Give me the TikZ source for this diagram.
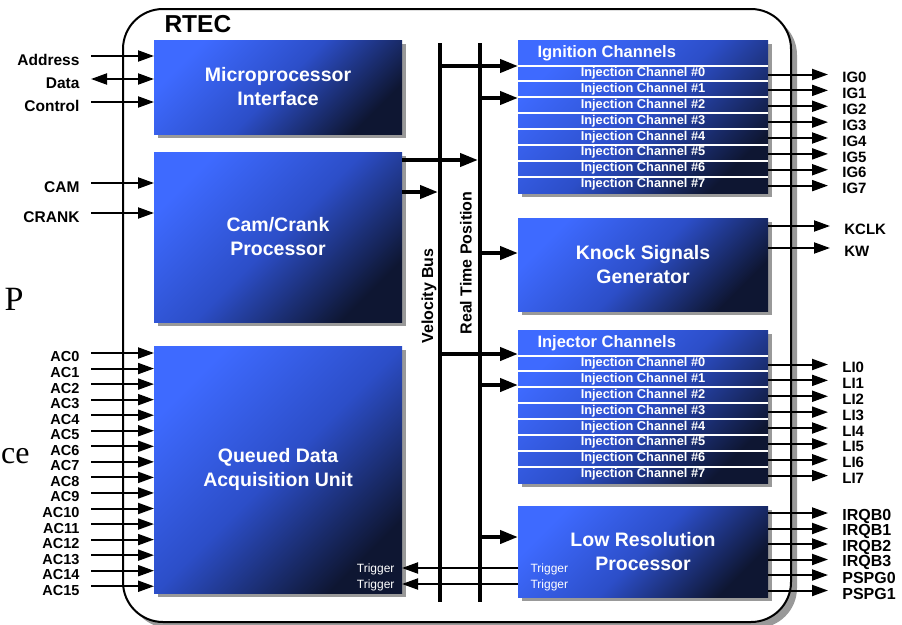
\documentclass[tikz,border=0pt]{standalone}
\usepackage{fontspec}
\setmainfont{Liberation Sans}
\newfontfamily\slideserif{Liberation Serif}
\usetikzlibrary{arrows.meta,shadows,calc}
\definecolor{rtecLight}{RGB}{62,106,255}
\definecolor{rtecMid}{RGB}{44,78,200}
\definecolor{rtecDark}{RGB}{14,22,50}
\newcommand{\pxsize}[2]{\fontsize{#1}{#2}\selectfont}

\begin{document}
\begin{tikzpicture}[x=1pt,y=-1pt,
        blk/.style={rectangle, inner sep=0pt, outer sep=0pt, anchor=north west, align=center, text=white, font=\pxsize{19.5}{24}\bfseries, top color=rtecLight, bottom color=rtecDark, middle color=rtecMid, shading angle=45, general shadow={fill=gray!80, shadow xshift=4pt, shadow yshift=-4pt}},
        sig/.style={line width=2pt, -{Triangle[length=16pt,width=11pt]}},
        busarr/.style={line width=4pt, -{Triangle[length=18pt,width=13pt]}},
        bus/.style={line width=4pt},
        inlbl/.style={anchor=east, xshift=-8pt, yshift=-4pt, font=\pxsize{15.5}{16}\bfseries},
        outlbl/.style={anchor=west, xshift=10pt, yshift=-3pt, font=\pxsize{15}{16}\bfseries},
        rowlbl/.style={anchor=base, text=white, font=\pxsize{12.8}{13}\bfseries},
        hdr/.style={anchor=base west, text=white, font=\pxsize{16.5}{17}\bfseries},
        trig/.style={text=white, font=\pxsize{12}{12}},
        rowline/.style={white, line width=2pt}]
        \useasboundingbox (0,0) rectangle (902,624);
        \node[rectangle, draw, line width=2pt, fill=white, rounded corners=40pt, inner sep=0pt, anchor=north west, minimum width=668pt, minimum height=613pt, general shadow={fill=gray!80, shadow xshift=6pt, shadow yshift=-6pt}] (rtec) at (122,8) {};
        \node[anchor=west, font=\pxsize{24.5}{25}\bfseries] (rteclbl) at (161,24) {RTEC};
        \node[anchor=base east, font=\slideserif\pxsize{34}{34}] (slideP) at (27,310) {P};
        \node[anchor=base west, inner xsep=0pt, font=\slideserif\pxsize{32}{32}] (slideCe) at (1,463) {ce};

        \node[blk, minimum width=248pt, minimum height=94pt] (mpi) at (154,40) {Microprocessor\\Interface};
        \node[blk, minimum width=248pt, minimum height=170pt] (ccp) at (154,152) {Cam/Crank\\Processor};
        \node[blk, minimum width=248pt, minimum height=247pt] (qdau) at (154,346) {Queued Data\\Acquisition Unit};
        \node[blk, minimum width=250pt, minimum height=153pt] (ign) at (518,40) {};
        \node[blk, minimum width=250pt, minimum height=93pt] (ksg) at (518,218) {Knock Signals\\Generator};
        \node[blk, minimum width=250pt, minimum height=153pt] (inj) at (518,330) {};
        \node[blk, minimum width=250pt, minimum height=91pt] (lrp) at (518,506) {Low Resolution\\Processor};

        \node[hdr] (ignhdr) at ($(ign.north west)+(16,17.5)$) {Ignition Channels};
        \node[hdr] (injhdr) at ($(inj.north west)+(16,17.5)$) {Injector Channels};
        \foreach \k in {0,...,7} {
            \draw[rowline] ($(ign.north west)+(0,{25.5+15.875*\k})$) -- ++(250,0);
            \node[rowlbl] (ignrow\k) at ($(ign.north)+(0,{36.5+15.875*\k})$) {Injection Channel \#\k};
            \draw[rowline] ($(inj.north west)+(0,{25.5+15.875*\k})$) -- ++(250,0);
            \node[rowlbl] (injrow\k) at ($(inj.north)+(0,{36.5+15.875*\k})$) {Injection Channel \#\k};
        }

        \coordinate (vbtop) at (440,43);
        \coordinate (vbbot) at (440,602);
        \coordinate (rptop) at (480,43);
        \coordinate (rpbot) at (480,602);
        \draw[bus] (vbtop) -- (vbbot);
        \draw[bus] (rptop) -- (rpbot);
        \node[rotate=90, font=\pxsize{16}{16}\bfseries] (vblbl) at (429,296) {Velocity Bus};
        \node[rotate=90, font=\pxsize{16}{16}\bfseries] (rplbl) at (466,263) {Real Time Position};

        \coordinate (ignA) at (518,66);
        \coordinate (ignB) at (518,98);
        \coordinate (ccA) at (402,160);
        \coordinate (ccB) at (402,192);
        \coordinate (ksA) at (518,253);
        \coordinate (injA) at (518,354);
        \coordinate (injB) at (518,385);
        \coordinate (lrA) at (518,537);
        \draw[busarr] (vbtop |- ignA) -- (ignA);
        \draw[busarr] (rptop |- ignB) -- (ignB);
        \draw[busarr, shorten >=2pt] (ccA) -- (rptop |- ccA);
        \draw[busarr, shorten >=2pt] (ccB) -- (vbtop |- ccB);
        \draw[busarr] (rptop |- ksA) -- (ksA);
        \draw[busarr] (vbtop |- injA) -- (injA);
        \draw[busarr] (rptop |- injB) -- (injB);
        \draw[busarr] (rptop |- lrA) -- (lrA);

        \coordinate (trgA) at (402,568);
        \coordinate (trgB) at (402,584);
        \draw[sig] (lrp.west |- trgA) -- (trgA);
        \draw[sig] (lrp.west |- trgB) -- (trgB);
        \node[trig, anchor=base east] (qtrgA) at ($(trgA)+(-4,4)$) {Trigger};
        \node[trig, anchor=base east] (qtrgB) at ($(trgB)+(-4,4)$) {Trigger};
        \node[trig, anchor=base west] (ltrgA) at ($(lrp.west |- trgA)+(9,4)$) {Trigger};
        \node[trig, anchor=base west] (ltrgB) at ($(lrp.west |- trgB)+(9,4)$) {Trigger};

        \coordinate (addr) at (91,56);
        \coordinate (data) at (91,79);
        \coordinate (ctrl) at (91,102);
        \coordinate (cam) at (91,183);
        \coordinate (crank) at (91,213);
        \draw[sig] (addr) -- (addr -| mpi.west);
        \draw[sig, {Triangle[length=16pt,width=11pt]}-{Triangle[length=16pt,width=11pt]}] (data) -- (data -| mpi.west);
        \draw[sig] (ctrl) -- (ctrl -| mpi.west);
        \draw[sig] (cam) -- (cam -| ccp.west);
        \draw[sig] (crank) -- (crank -| ccp.west);
        \node[inlbl] (addrlbl) at (addr) {Address};
        \node[inlbl] (datalbl) at (data) {Data};
        \node[inlbl] (ctrllbl) at (ctrl) {Control};
        \node[inlbl] (camlbl) at (cam) {CAM};
        \node[inlbl] (cranklbl) at (crank) {CRANK};
        \foreach \k in {0,...,15} {
            \coordinate (ac\k) at (91,{353+15.55*\k});
            \draw[sig] (ac\k) -- (ac\k -| qdau.west);
            \node[inlbl, font=\pxsize{14.5}{15}\bfseries] (aclbl\k) at (ac\k) {AC\k};
        }

        \foreach \k in {0,...,7} {
            \coordinate (igout\k) at ($(ign.north east)+(60,{34.5+15.875*\k})$);
            \draw[sig] (ign.east |- igout\k) -- (igout\k) node[outlbl] (iglbl\k) {IG\k};
            \coordinate (liout\k) at ($(inj.north east)+(60,{34.5+15.875*\k})$);
            \draw[sig] (inj.east |- liout\k) -- (liout\k) node[outlbl] (lilbl\k) {LI\k};
        }
        \coordinate (kclk) at ($(ksg.north east)+(62,8)$);
        \coordinate (kw) at ($(ksg.north east)+(62,30)$);
        \draw[sig] (ksg.east |- kclk) -- (kclk) node[outlbl] (kclklbl) {KCLK};
        \draw[sig] (ksg.east |- kw) -- (kw) node[outlbl] (kwlbl) {KW};
        \foreach \n [count=\k from 0] in {IRQB0,IRQB1,IRQB2,IRQB3,PSPG0,PSPG1} {
            \coordinate (lrout\k) at ($(lrp.north east)+(60,{7+15.5*\k})$);
            \draw[sig] (lrp.east |- lrout\k) -- (lrout\k) node[outlbl, font=\pxsize{16}{16}\bfseries] (lrlbl\k) {\n};
        }
    \end{tikzpicture}
\end{document}
